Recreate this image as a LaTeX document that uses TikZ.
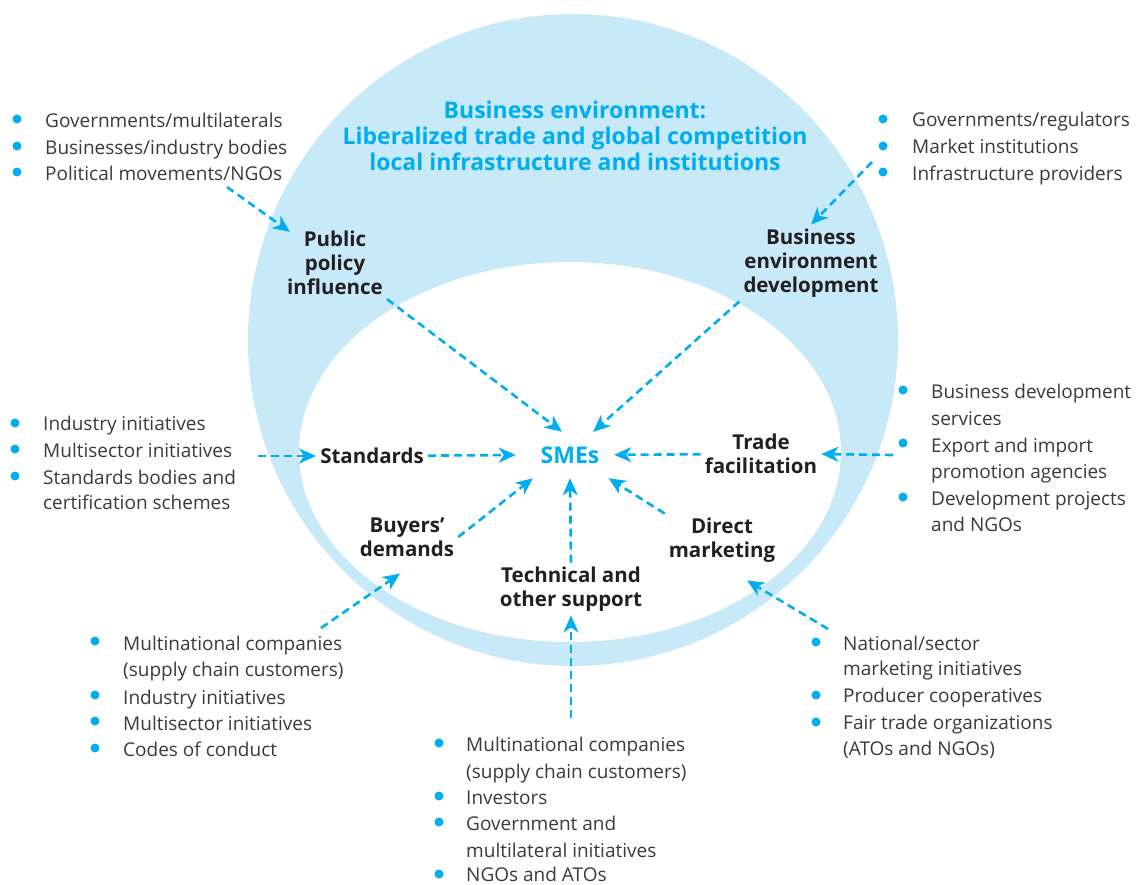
\documentclass[tikz,border=0pt]{standalone}
\usepackage{fontspec}
\setmainfont{Open Sans}
\usepackage{xcolor}
\usepackage{tikz}
\usetikzlibrary{arrows.meta}

\definecolor{smecyan}{HTML}{00AEEF}
\definecolor{ringblue}{HTML}{C8E9F8}
\definecolor{inktext}{HTML}{231F20}
\definecolor{greytext}{HTML}{3A3A3A}

\tikzset{
  spoke/.style={smecyan, line width=2.6pt, dash pattern=on 8pt off 5pt,
    -{Stealth[length=17pt, width=15pt, inset=5pt]}},
  channel/.style={font=\fontsize{20.5}{24}\selectfont\bfseries, text=inktext,
    align=center, inner sep=4pt},
  item/.style={font=\fontsize{19}{27}\selectfont, text=greytext,
    anchor=base west, inner sep=0pt},
  bul/.style={fill=smecyan}
}

\begin{document}
\begin{tikzpicture}[x=1pt, y=-1pt]
    \useasboundingbox (0,0) rectangle (1138,884);

    % the ring of the business environment
    \fill[ringblue, even odd rule] (573,340) ellipse [x radius=325pt, y radius=326pt]
        (570,452) ellipse [x radius=271pt, y radius=190pt];

    \node[font=\fontsize{23}{26}\selectfont\bfseries, text=smecyan, align=center]
        (title) at (575,136) {Business environment:\\Liberalized trade and global competition\\local infrastructure and institutions};

    % centre and channels
    \node[font=\fontsize{23}{26}\selectfont\bfseries, text=smecyan, inner sep=0pt,
        minimum width=88pt, minimum height=46pt] (sme) at (570,455) {SMEs};
    \node[channel] (pub) at (335,263) {Public\\policy\\influence};
    \node[channel] (bed) at (811,263) {Business\\environment\\development};
    \node[channel] (std) at (372,456) {Standards};
    \node[channel] (trd) at (761,454) {Trade\\facilitation};
    \node[channel] (buy) at (407,537) {Buyers’\\demands};
    \node[channel] (dmk) at (722,540) {Direct\\marketing};
    \node[channel] (tec) at (571,589) {Technical and\\other support};

    \draw[spoke] (pub.south east) -- (sme.109);
    \draw[spoke] (bed.south west) -- (sme.45);
    \draw[spoke] (std) -- ([xshift=-10pt]sme.west);
    \draw[spoke] (trd) -- (sme);
    \draw[spoke] (buy.east) -- (sme.212);
    \draw[spoke] (tec.north) -- (sme.south);
    \draw[spoke] (dmk.north west) -- (sme.-31);

    % actors feeding each channel
    \foreach \yy/\txt [count=\i] in {127/{Governments/multilaterals}, 154/{Businesses/industry bodies}, 180/{Political movements/NGOs}}
        \node[item] (pol\i) at (45,\yy) {\txt};
    \foreach \yy in {119,146,172} \fill[bul] (17,\yy) circle (4.5pt);
    \coordinate (polsrc) at (227,187);
    \draw[spoke] (polsrc) -- ([shift={(7,5)}]pub.north west);

    \foreach \yy/\txt [count=\i] in {126/{Governments/regulators}, 153/{Market institutions}, 180/{Infrastructure providers}}
        \node[item] (gov\i) at (912,\yy) {\txt};
    \foreach \yy in {119,146,172} \fill[bul] (883,\yy) circle (4.5pt);
    \coordinate (govsrc) at (872,162);
    \draw[spoke] (govsrc) -- (bed.north);

    \foreach \yy/\txt [count=\i] in {430/{Industry initiatives}, 457/{Multisector initiatives}, 484/{Standards bodies and}, 509/{certification schemes}}
        \node[item] (ind\i) at (43,\yy) {\txt};
    \foreach \yy in {423,449,476} \fill[bul] (15,\yy) circle (4.5pt);
    \coordinate (stdsrc) at (258,456);
    \draw[spoke] (stdsrc) -- (std.west);

    \foreach \yy/\txt [count=\i] in {398/{Business development}, 425/{services}, 452/{Export and import}, 478/{promotion agencies}, 505/{Development projects}, 531/{and NGOs}}
        \node[item] (bds\i) at (931,\yy) {\txt};
    \foreach \yy in {390,443,497} \fill[bul] (903,\yy) circle (4.5pt);
    \coordinate (trdsrc) at (893,455);
    \draw[spoke] (trdsrc) -- (trd.east);

    \foreach \yy/\txt [count=\i] in {650/{Multinational companies}, 676/{(supply chain customers)}, 704/{Industry initiatives}, 730/{Multisector initiatives}, 756/{Codes of conduct}}
        \node[item] (mnc\i) at (123,\yy) {\txt};
    \foreach \yy in {641,695,721,748} \fill[bul] (95,\yy) circle (4.5pt);
    \coordinate (buysrc) at (321,628);
    \draw[spoke] (buysrc) -- ([shift={(-7,13)}]buy.south);

    \foreach \yy/\txt [count=\i] in {751/{Multinational companies}, 778/{(supply chain customers)}, 804/{Investors}, 830/{Government and}, 857/{multilateral initiatives}, 881/{NGOs and ATOs}}
        \node[item] (inv\i) at (466,\yy) {\txt};
    \foreach \yy in {743,796,822,874} \fill[bul] (439,\yy) circle (4.5pt);
    \coordinate (tecsrc) at (571,718);
    \draw[spoke] (tecsrc) -- (tec.south);

    \foreach \yy/\txt [count=\i] in {650/{National/sector}, 675/{marketing initiatives}, 702/{Producer cooperatives}, 729/{Fair trade organizations}, 755/{(ATOs and NGOs)}}
        \node[item] (nat\i) at (843,\yy) {\txt};
    \foreach \yy in {642,695,722} \fill[bul] (816,\yy) circle (4.5pt);
    \coordinate (dmksrc) at (828,629);
    \draw[spoke] (dmksrc) -- ([shift={(25,14)}]dmk.south);
\end{tikzpicture}
\end{document}
